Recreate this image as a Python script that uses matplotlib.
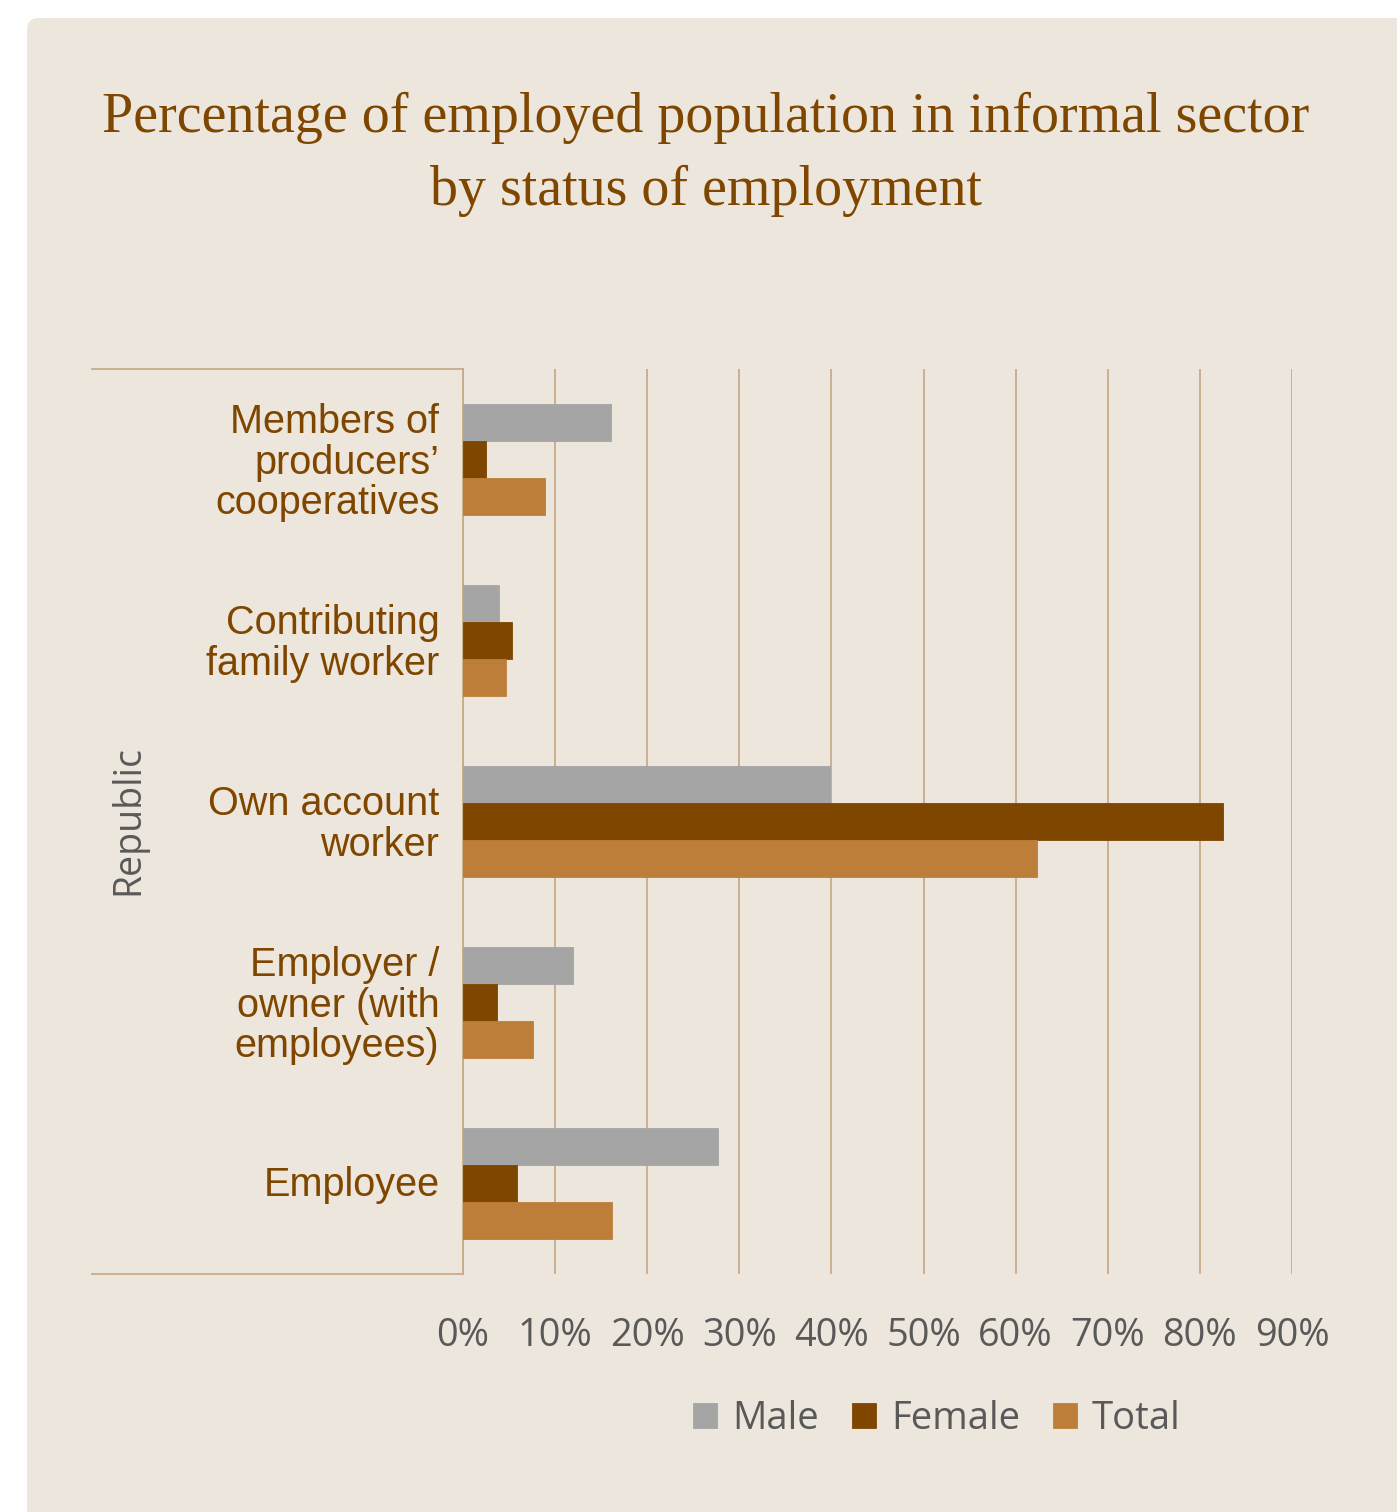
import numpy as np
import matplotlib.pyplot as plt
from matplotlib.patches import FancyBboxPatch
from matplotlib.lines import Line2D

# Informal sector employment by status, shares of employed population
categories = ["Members of\nproducers\u2019\ncooperatives", "Contributing\nfamily worker",
              "Own account\nworker", "Employer /\nowner (with\nemployees)", "Employee"]
male = [0.161, 0.039, 0.398, 0.119, 0.277]
female = [0.025, 0.053, 0.825, 0.037, 0.059]
total = [0.089, 0.047, 0.623, 0.076, 0.162]
series = ["Male", "Female", "Total"]
xticks = [0.0, 0.1, 0.2, 0.3, 0.4, 0.5, 0.6, 0.7, 0.8, 0.9]

bg = "#EDE6DD"
brown = "#7F4600"
colors = ["#A5A5A5", "#7F4600", "#BC7E38"]
gridc = "#C9AB8B"
gray_txt = "#595959"

W, H = 1397, 1512
fig = plt.figure(figsize=(W / 100, H / 100), dpi=100)
fig.patch.set_facecolor("white")

# rounded panel behind everything
panel = FancyBboxPatch((27 / W, 0 - 0.02), 1.2, 1 - 18 / H + 0.02,
                       boxstyle="round,pad=0,rounding_size=0.008",
                       transform=fig.transFigure, facecolor=bg, edgecolor="none",
                       zorder=-10)
fig.patches.append(panel)

fig.text(706 / W, 1 - 118 / H, "Percentage of employed population in informal sector",
         ha="center", va="center", fontsize=40.3, color=brown, family="Liberation Serif")
fig.text(706 / W, 1 - 191 / H, "by status of employment",
         ha="center", va="center", fontsize=40.3, color=brown, family="Liberation Serif")

x0, x1 = 463, 1292
y0, y1 = 369, 1274
ax = fig.add_axes([x0 / W, 1 - y1 / H, (x1 - x0) / W, (y1 - y0) / H])
ax.set_facecolor("none")

n = len(categories)
ypos = np.arange(n)[::-1]
h = 0.205
for k, (vals, c) in enumerate(zip([male, female, total], colors)):
    ax.barh(ypos + (1 - k) * h, vals, height=h, color=c, label=series[k],
            edgecolor=c, linewidth=0.6, zorder=3)

ax.set_xlim(0, 0.9)
ax.set_ylim(-0.5, n - 0.5)
ax.set_xticks(xticks)
ax.set_xticklabels([f"{int(round(v * 100))}%" for v in xticks])
ax.set_yticks(ypos + 0.012)
ax.set_yticklabels(categories, linespacing=1.08)
ax.tick_params(axis="y", length=0, pad=17, labelsize=28.5, labelcolor=brown)
ax.tick_params(axis="x", length=0, pad=31, labelsize=27.3, labelcolor=gray_txt)
for lab in ax.get_yticklabels():
    lab.set_family("Liberation Sans")
    lab.set_horizontalalignment("right")
for lab in ax.get_xticklabels():
    lab.set_family("Open Sans")

ax.grid(axis="x", color=gridc, linewidth=1.3, zorder=0)
for s in ["top", "right", "bottom"]:
    ax.spines[s].set_visible(False)
ax.spines["left"].set_color(gridc)
ax.spines["left"].set_linewidth(1.3)

# outer category-group boundaries
for yy in (y0, y1):
    fig.add_artist(Line2D([92 / W, x0 / W], [1 - yy / H, 1 - yy / H],
                          color=gridc, linewidth=1.3))

fig.text(128 / W, 1 - 820 / H, "Republic", rotation=90, ha="center", va="center",
         fontsize=27, color=gray_txt, family="Open Sans")

leg = fig.legend(loc="center", bbox_to_anchor=(937 / W, 1 - 1419 / H), ncol=3,
                 frameon=False, fontsize=27.5, handlelength=0.63, handleheight=0.63,
                 handletextpad=0.4, columnspacing=0.85)
for t in leg.get_texts():
    t.set_color(gray_txt)
    t.set_family("Open Sans")

fig.savefig("out.png", dpi=100, facecolor="white")
